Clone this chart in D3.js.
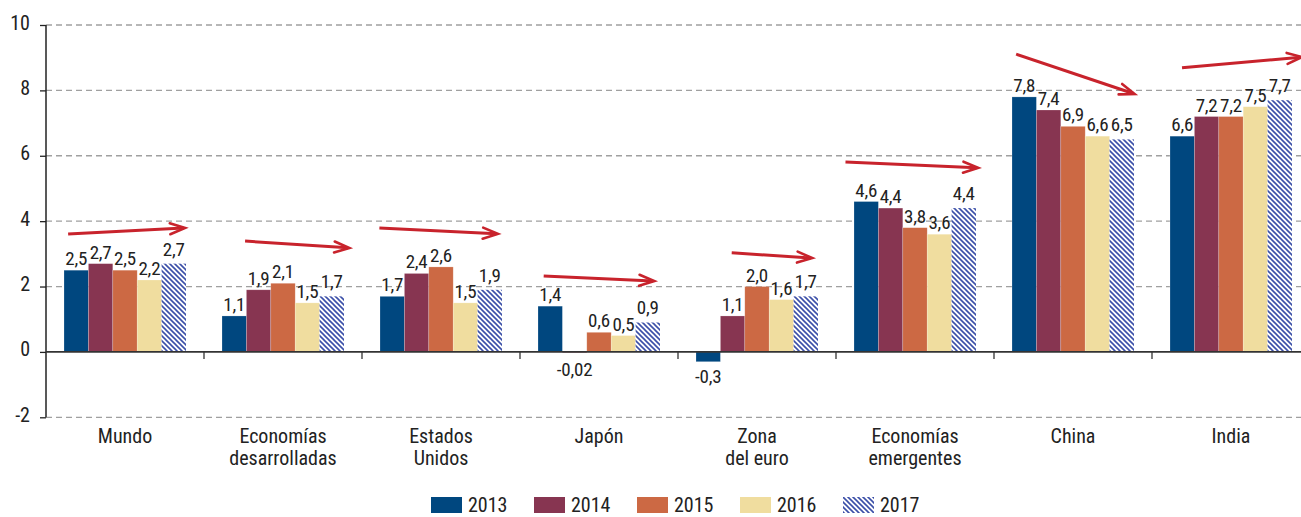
<!DOCTYPE html>
<html>
<head>
<meta charset="utf-8">
<script src="https://cdn.jsdelivr.net/npm/d3@7"></script>
<style>
  html, body { margin: 0; padding: 0; background: #fff; }
  svg { display: block; }
  text { font-family: "Liberation Sans Narrow", "Roboto Condensed", "DejaVu Sans Condensed", "Noto Sans", sans-serif; fill: #222; }
</style>
</head>
<body>
<svg id="chart" width="1301" height="517"></svg>
<script>
// ---------- data ----------
const categories = [
  ["Mundo"],
  ["Economías", "desarrolladas"],
  ["Estados", "Unidos"],
  ["Japón"],
  ["Zona", "del euro"],
  ["Economías", "emergentes"],
  ["China"],
  ["India"]
];
const years = ["2013", "2014", "2015", "2016", "2017"];
const v2013 = [2.5, 1.1, 1.7, 1.4, -0.3, 4.6, 7.8, 6.6];
const v2014 = [2.7, 1.9, 2.4, -0.02, 1.1, 4.4, 7.4, 7.2];
const v2015 = [2.5, 2.1, 2.6, 0.6, 2.0, 3.8, 6.9, 7.2];
const v2016 = [2.2, 1.5, 1.5, 0.5, 1.6, 3.6, 6.6, 7.5];
const v2017 = [2.7, 1.7, 1.9, 0.9, 1.7, 4.4, 6.5, 7.7];
const labels2013 = ["2,5", "1,1", "1,7", "1,4", "-0,3", "4,6", "7,8", "6,6"];
const labels2014 = ["2,7", "1,9", "2,4", "-0,02", "1,1", "4,4", "7,4", "7,2"];
const labels2015 = ["2,5", "2,1", "2,6", "0,6", "2,0", "3,8", "6,9", "7,2"];
const labels2016 = ["2,2", "1,5", "1,5", "0,5", "1,6", "3,6", "6,6", "7,5"];
const labels2017 = ["2,7", "1,7", "1,9", "0,9", "1,7", "4,4", "6,5", "7,7"];
const yTicks = [-2, 0, 2, 4, 6, 8, 10];
// trend arrows (annotation): value at start and end of each arrow,
// and where they start/end across each category's band (0..1)
const arrowStartValue = [3.61, 3.39, 3.79, 2.32, 3.03, 5.81, 9.11, 8.69];
const arrowEndValue   = [3.79, 3.18, 3.61, 2.17, 2.87, 5.63, 7.89, 9.02];
const arrowStartFrac  = [0.14, 0.26, 0.11, 0.15, 0.34, 0.06, 0.14, 0.19];
const arrowEndFrac    = [0.88, 0.92, 0.86, 0.85, 0.85, 0.90, 0.89, 0.95];

const seriesValues = [v2013, v2014, v2015, v2016, v2017];
const seriesLabels = [labels2013, labels2014, labels2015, labels2016, labels2017];
const colors = ["#00477f", "#873551", "#cc6944", "#f0dd9f", "url(#hatch)"];

// ---------- layout ----------
const svg = d3.select("#chart");
const mLeft = 46, mRight = 1310, mTop = 25, mBottom = 417.3;
const fs = "20px";
const fsVal = "19px";

const defs = svg.append("defs");
const pat = defs.append("pattern").attr("id", "hatch")
  .attr("patternUnits", "userSpaceOnUse").attr("width", 5).attr("height", 5);
pat.append("rect").attr("width", 5).attr("height", 5).attr("fill", "#fff");
pat.append("path").attr("d", "M0,0 L5,5 M-1,4 L1,6 M4,-1 L6,1")
  .attr("stroke", "#3b4fa8").attr("stroke-width", 1.6);

const x0 = d3.scaleBand().domain(d3.range(categories.length)).range([mLeft, mRight]).padding(0);
const groupPad = 18;
const x1 = d3.scaleBand().domain(d3.range(years.length))
  .range([groupPad, x0.bandwidth() - groupPad]).padding(0);
const y = d3.scaleLinear().domain([-2, 10]).range([mBottom, mTop]);

// gridlines
svg.append("g").selectAll("line").data(yTicks.filter(d => d !== 0)).join("line")
  .attr("x1", mLeft).attr("x2", 1301)
  .attr("y1", d => y(d)).attr("y2", d => y(d))
  .attr("stroke", "#a0a0a0").attr("stroke-width", 1.3).attr("stroke-dasharray", "6,4");

// y axis
const yAxis = d3.axisLeft(y).tickValues(yTicks).tickSize(6).tickFormat(d => d);
const gy = svg.append("g").attr("transform", `translate(${mLeft},0)`).call(yAxis);
gy.select(".domain").attr("stroke", "#222").attr("stroke-width", 1.5).attr("d", `M0,${y(10)}V${y(-2)}`);
gy.selectAll(".tick line").attr("stroke", "#222").attr("stroke-width", 1.3);
gy.selectAll(".tick text").attr("x", -16).attr("dy", "0.2em")
  .style("font-size", fs).attr("fill", "#222");

// bars
const groups = svg.append("g").selectAll("g").data(categories).join("g")
  .attr("transform", (d, i) => `translate(${x0(i)},0)`);
groups.each(function(c, ci) {
  const g = d3.select(this);
  years.forEach((yr, si) => {
    const v = seriesValues[si][ci];
    g.append("rect")
      .attr("x", x1(si))
      .attr("width", x1.bandwidth())
      .attr("y", y(Math.max(0, v)))
      .attr("height", Math.max(Math.abs(y(v) - y(0)), 0.8))
      .attr("fill", colors[si])
      .attr("stroke", si < 4 ? "rgba(255,255,255,0.35)" : "none")
      .attr("stroke-width", 0.6);
  });
});

// zero line
svg.append("line").attr("x1", mLeft).attr("x2", 1301).attr("y1", y(0)).attr("y2", y(0))
  .attr("stroke", "#333").attr("stroke-width", 1.6);

// category ticks
svg.append("g").selectAll("line").data(d3.range(1, categories.length)).join("line")
  .attr("x1", i => x0(i)).attr("x2", i => x0(i))
  .attr("y1", y(0)).attr("y2", y(0) + 7)
  .attr("stroke", "#333").attr("stroke-width", 1.3);

// value labels
groups.each(function(c, ci) {
  const g = d3.select(this);
  years.forEach((yr, si) => {
    const v = seriesValues[si][ci];
    const cx = x1(si) + x1.bandwidth() / 2;
    const ty = v >= 0 ? y(v) - (si === 4 ? 8 : 5) : Math.max(y(v), y(0) + 3) + 21;
    g.append("text")
      .attr("x", cx)
      .attr("y", ty)
      .attr("text-anchor", "middle")
      .style("font-size", fsVal)
      .style("letter-spacing", "-0.2px")
      .text(seriesLabels[si][ci]);
  });
});

// category labels
groups.each(function(c) {
  const t = d3.select(this).append("text")
    .attr("x", x0.bandwidth() / 2).attr("y", 443)
    .attr("text-anchor", "middle").style("font-size", fs);
  c.forEach((line, li) => {
    t.append("tspan").attr("x", x0.bandwidth() / 2).attr("dy", li === 0 ? 0 : 22).text(line);
  });
});

// trend arrows
const arrowColor = "#c8232c";
groups.each(function(c, ci) {
  const g = d3.select(this);
  const bw = x0.bandwidth();
  const xs = bw * arrowStartFrac[ci], xe = bw * arrowEndFrac[ci];
  const ys = y(arrowStartValue[ci]), ye = y(arrowEndValue[ci]);
  const ang = Math.atan2(ye - ys, xe - xs);
  const L = 15, W = 5.5;
  const bx = xe - L * Math.cos(ang), by = ye - L * Math.sin(ang);
  const px = -Math.sin(ang) * W, py = Math.cos(ang) * W;
  g.append("line").attr("x1", xs).attr("y1", ys).attr("x2", xe - 1.5 * Math.cos(ang)).attr("y2", ye - 1.5 * Math.sin(ang))
    .attr("stroke", arrowColor).attr("stroke-width", 3);
  g.append("path")
    .attr("d", `M${bx + px},${by + py} L${xe},${ye} L${bx - px},${by - py}`)
    .attr("fill", "none").attr("stroke", arrowColor).attr("stroke-width", 2.6)
    .attr("stroke-linejoin", "miter").attr("stroke-linecap", "round");
});

// legend
const legendX = d3.scalePoint().domain(years).range([431, 843]);
const lg = svg.append("g").selectAll("g").data(years).join("g")
  .attr("transform", d => `translate(${legendX(d)},497)`);
lg.append("rect").attr("width", 31).attr("height", 16).attr("fill", (d, i) => colors[i]);
lg.append("text").attr("x", 37).attr("y", 15).style("font-size", fs).text(d => d);
</script>
</body>
</html>
